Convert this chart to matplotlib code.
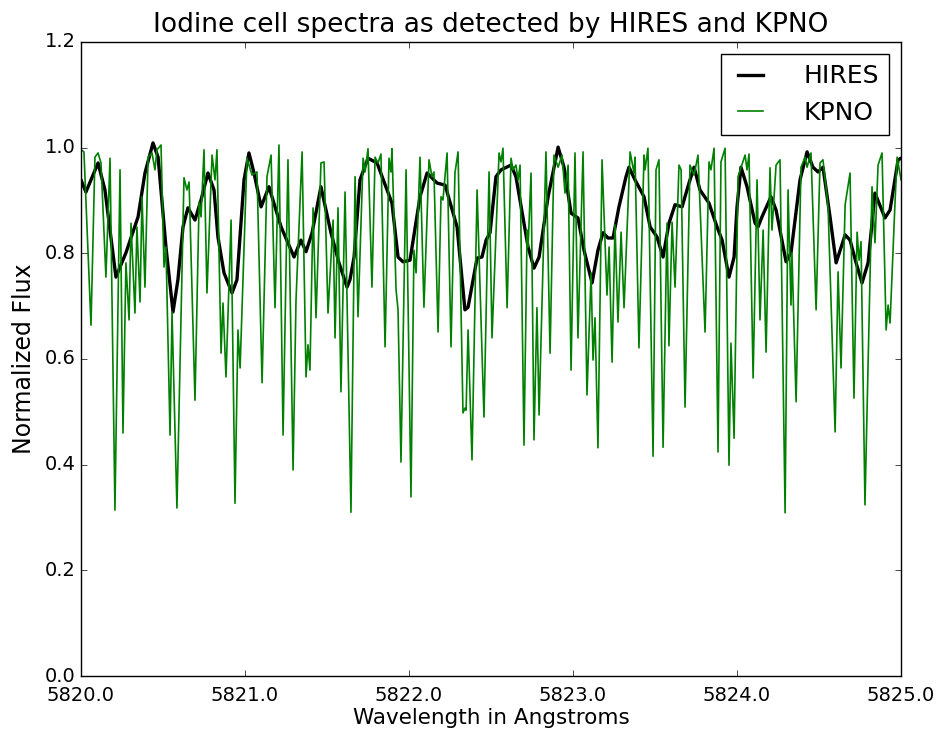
import numpy as np
import matplotlib
matplotlib.use('Agg')
import matplotlib.pyplot as plt
from matplotlib.ticker import FormatStrFormatter, MultipleLocator

plt.style.use('classic')

# HIRES spectrum (offset from 5820 A, normalized flux)
hires_offset = [0.000, 0.030, 0.104, 0.146, 0.213, 0.274, 0.348, 0.390, 0.439, 0.470,
                0.518, 0.561, 0.591, 0.622, 0.652, 0.695, 0.732, 0.774, 0.811, 0.835,
                0.872, 0.921, 0.951, 0.994, 1.024, 1.055, 1.098, 1.146, 1.220, 1.299,
                1.341, 1.372, 1.409, 1.463, 1.524, 1.573, 1.622, 1.640, 1.665, 1.701,
                1.750, 1.805, 1.866, 1.896, 1.933, 1.963, 2.006, 2.067, 2.110, 2.171,
                2.220, 2.293, 2.341, 2.360, 2.415, 2.445, 2.470, 2.494, 2.530, 2.561,
                2.622, 2.652, 2.726, 2.762, 2.793, 2.848, 2.909, 2.945, 2.988, 3.030,
                3.067, 3.116, 3.152, 3.183, 3.213, 3.244, 3.280, 3.323, 3.341, 3.378,
                3.433, 3.470, 3.512, 3.549, 3.585, 3.622, 3.665, 3.707, 3.738, 3.774,
                3.829, 3.878, 3.909, 3.951, 3.982, 4.000, 4.024, 4.061, 4.110, 4.128,
                4.152, 4.207, 4.238, 4.299, 4.329, 4.384, 4.427, 4.463, 4.494, 4.524,
                4.567, 4.604, 4.659, 4.689, 4.726, 4.762, 4.799, 4.841, 4.902, 4.933,
                4.982, 5.000]
hires_flux = [0.939, 0.916, 0.971, 0.920, 0.755, 0.801, 0.869, 0.952, 1.009, 0.982,
              0.812, 0.689, 0.750, 0.850, 0.886, 0.863, 0.901, 0.952, 0.920, 0.831,
              0.763, 0.725, 0.750, 0.939, 0.990, 0.952, 0.888, 0.926, 0.850, 0.793,
              0.825, 0.803, 0.839, 0.926, 0.839, 0.782, 0.736, 0.750, 0.793, 0.939,
              0.980, 0.971, 0.920, 0.895, 0.793, 0.784, 0.787, 0.907, 0.952, 0.933,
              0.929, 0.850, 0.693, 0.698, 0.791, 0.793, 0.825, 0.839, 0.945, 0.958,
              0.967, 0.945, 0.812, 0.772, 0.793, 0.907, 1.001, 0.963, 0.876, 0.867,
              0.806, 0.744, 0.806, 0.839, 0.829, 0.829, 0.888, 0.945, 0.963, 0.939,
              0.907, 0.850, 0.831, 0.793, 0.857, 0.892, 0.888, 0.933, 0.963, 0.920,
              0.895, 0.850, 0.825, 0.755, 0.793, 0.888, 0.963, 0.926, 0.857, 0.850,
              0.869, 0.907, 0.882, 0.784, 0.801, 0.939, 0.992, 0.963, 0.954, 0.963,
              0.869, 0.782, 0.835, 0.825, 0.782, 0.744, 0.782, 0.914, 0.867, 0.882,
              0.977, 0.980]

# KPNO spectrum (offset from 5820 A, normalized flux)
kpno_offset = [0.000, 0.018, 0.061, 0.085, 0.104, 0.122, 0.152, 0.177, 0.207, 0.238,
               0.256, 0.274, 0.293, 0.305, 0.329, 0.341, 0.360, 0.372, 0.390, 0.409,
               0.433, 0.451, 0.463, 0.488, 0.506, 0.518, 0.543, 0.555, 0.585, 0.628,
               0.646, 0.659, 0.695, 0.720, 0.732, 0.750, 0.768, 0.799, 0.817, 0.829,
               0.854, 0.866, 0.884, 0.915, 0.939, 0.957, 0.970, 1.012, 1.043, 1.073,
               1.104, 1.134, 1.159, 1.183, 1.207, 1.232, 1.262, 1.293, 1.311, 1.348,
               1.372, 1.384, 1.396, 1.415, 1.433, 1.463, 1.482, 1.506, 1.537, 1.549,
               1.567, 1.585, 1.610, 1.646, 1.671, 1.689, 1.720, 1.732, 1.750, 1.774,
               1.793, 1.811, 1.829, 1.854, 1.878, 1.890, 1.896, 1.921, 1.933, 1.951,
               1.982, 2.012, 2.030, 2.043, 2.067, 2.091, 2.122, 2.140, 2.152, 2.177,
               2.195, 2.207, 2.232, 2.256, 2.280, 2.299, 2.329, 2.341, 2.348, 2.360,
               2.384, 2.415, 2.457, 2.488, 2.506, 2.549, 2.561, 2.573, 2.598, 2.622,
               2.634, 2.652, 2.665, 2.677, 2.701, 2.720, 2.726, 2.744, 2.762, 2.780,
               2.793, 2.835, 2.860, 2.884, 2.909, 2.933, 2.951, 2.970, 2.988, 3.012,
               3.030, 3.061, 3.085, 3.110, 3.122, 3.134, 3.152, 3.177, 3.207, 3.220,
               3.238, 3.256, 3.274, 3.293, 3.311, 3.348, 3.372, 3.378, 3.402, 3.433,
               3.439, 3.457, 3.488, 3.506, 3.524, 3.549, 3.573, 3.585, 3.604, 3.622,
               3.646, 3.659, 3.683, 3.713, 3.738, 3.762, 3.805, 3.829, 3.841, 3.860,
               3.884, 3.902, 3.927, 3.951, 3.963, 3.982, 4.006, 4.049, 4.061, 4.073,
               4.098, 4.122, 4.140, 4.159, 4.177, 4.201, 4.213, 4.238, 4.262, 4.293,
               4.311, 4.329, 4.335, 4.360, 4.390, 4.415, 4.427, 4.451, 4.482, 4.506,
               4.524, 4.555, 4.598, 4.616, 4.634, 4.659, 4.689, 4.713, 4.732, 4.744,
               4.756, 4.780, 4.823, 4.841, 4.860, 4.884, 4.909, 4.921, 4.933, 4.963,
               4.976, 5.000]
kpno_flux = [0.996, 0.992, 0.664, 0.982, 0.990, 0.971, 0.755, 0.980, 0.314, 0.958,
             0.460, 0.782, 0.674, 0.857, 0.687, 0.850, 0.708, 0.907, 0.736, 0.982,
             0.990, 0.958, 0.996, 1.005, 0.774, 0.812, 0.456, 0.689, 0.318, 0.943,
             0.920, 0.935, 0.522, 0.897, 0.869, 0.996, 0.725, 0.986, 0.939, 0.996,
             0.611, 0.706, 0.566, 0.863, 0.327, 0.655, 0.583, 0.980, 0.948, 0.954,
             0.555, 0.945, 0.986, 0.697, 1.005, 0.456, 0.977, 0.390, 0.712, 0.992,
             0.566, 0.627, 0.579, 0.886, 0.678, 0.971, 0.973, 0.687, 0.863, 0.640,
             0.886, 0.538, 0.916, 0.310, 0.945, 0.680, 0.980, 0.954, 0.998, 0.736,
             0.982, 0.971, 0.988, 0.623, 0.980, 0.954, 0.998, 0.731, 0.693, 0.405,
             0.958, 0.339, 0.806, 0.763, 0.982, 0.698, 0.977, 0.945, 0.954, 0.651,
             0.907, 0.901, 0.990, 0.623, 0.952, 0.992, 0.498, 0.507, 0.503, 0.655,
             0.409, 0.920, 0.490, 0.954, 0.640, 0.990, 0.973, 0.999, 0.697, 0.980,
             0.958, 0.967, 0.939, 0.967, 0.437, 0.844, 0.812, 0.952, 0.447, 0.697,
             0.494, 0.992, 0.611, 0.986, 0.963, 0.986, 0.914, 0.967, 0.579, 0.990,
             0.640, 0.992, 0.532, 0.763, 0.598, 0.678, 0.432, 0.977, 0.721, 0.812,
             0.594, 0.854, 0.670, 0.840, 0.697, 0.992, 0.952, 0.982, 0.621, 0.986,
             0.958, 0.999, 0.416, 0.958, 0.977, 0.433, 0.857, 0.625, 0.859, 0.736,
             0.967, 0.958, 0.509, 0.967, 0.948, 0.986, 0.651, 0.973, 0.958, 0.999,
             0.424, 0.973, 0.999, 0.399, 0.630, 0.450, 0.945, 0.986, 0.958, 0.988,
             0.564, 0.939, 0.674, 0.844, 0.613, 0.962, 0.844, 0.967, 0.977, 0.309,
             0.920, 0.702, 0.801, 0.519, 0.963, 0.982, 0.963, 0.990, 0.693, 0.971,
             0.977, 0.888, 0.462, 0.765, 0.583, 0.892, 0.952, 0.526, 0.840, 0.787,
             0.822, 0.324, 0.926, 0.820, 0.967, 0.990, 0.655, 0.702, 0.668, 0.895,
             0.982, 0.939]

hires_wave = 5820.0 + np.array(hires_offset)
kpno_wave = 5820.0 + np.array(kpno_offset)

fig = plt.figure(figsize=(9.44, 7.34), dpi=100, facecolor='white')
ax = fig.add_axes([0.0858, 0.079, 0.8687, 0.8638])

ax.plot(hires_wave, hires_flux, color='k', linewidth=2.4, label='HIRES')
ax.plot(kpno_wave, kpno_flux, color='g', linewidth=1.2, label='KPNO')

ax.set_xlim(5820, 5825)
ax.set_ylim(0, 1.2)
ax.xaxis.set_major_locator(MultipleLocator(1.0))
ax.yaxis.set_major_locator(MultipleLocator(0.2))
ax.xaxis.set_major_formatter(FormatStrFormatter('%.1f'))
ax.yaxis.set_major_formatter(FormatStrFormatter('%.1f'))
ax.tick_params(labelsize=14)
ax.tick_params(axis='x', pad=7)

ax.set_xlabel('Wavelength in Angstroms', fontsize=15.5, labelpad=2)
ax.set_ylabel('Normalized Flux', fontsize=17, labelpad=6)
ax.set_title('Iodine cell spectra as detected by HIRES and KPNO', fontsize=19, y=1.005)
ax.legend(loc='upper right', fontsize=18, handlelength=1.6, handletextpad=1.3)

fig.savefig('out.png', dpi=100, facecolor='white')
